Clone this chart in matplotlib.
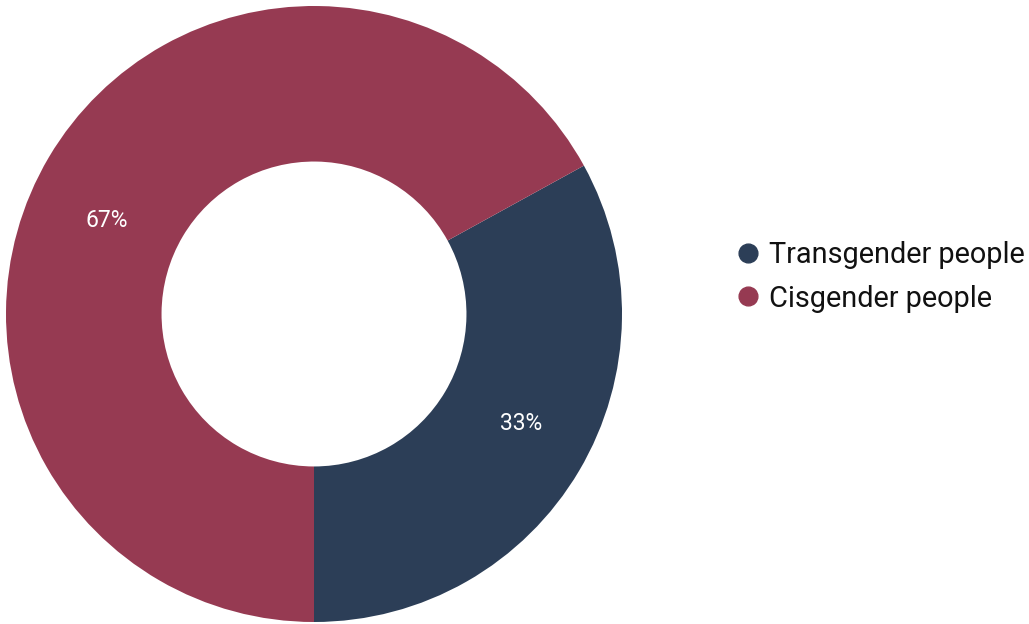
import matplotlib
matplotlib.use("Agg")
import numpy as np
import matplotlib.pyplot as plt
from matplotlib.lines import Line2D

categories = ["Transgender people", "Cisgender people"]
shares = [33, 67]
colors = ["#2C3E57", "#963A52"]

plt.rcParams["font.family"] = ["Roboto", "DejaVu Sans"]

W, H = 1029, 624
fig = plt.figure(figsize=(W / 100, H / 100), dpi=100)
fig.patch.set_facecolor("white")

# Donut: centre at (314, 314) px from top-left, outer radius 308 px
cx, cy, R = 314, 314, 308
ax = fig.add_axes([(cx - R) / W, (H - cy - R) / H, 2 * R / W, 2 * R / H])

wedges, texts, autotexts = ax.pie(
    shares,
    colors=colors,
    startangle=-90,
    counterclock=True,
    radius=1,
    wedgeprops=dict(width=0.505, linewidth=0),
    autopct=lambda p: f"{p:.0f}%",
    pctdistance=0.75,
    textprops=dict(color="white", fontsize=16.5),
)

# percentage labels sit a little counter-clockwise of, and just below, each wedge's middle
for w, t in zip(wedges, autotexts):
    mid = np.deg2rad((w.theta1 + w.theta2) / 2 + 4.4)
    t.set_position((0.75 * np.cos(mid), 0.75 * np.sin(mid) - 0.026))

ax.set_xlim(-1, 1)
ax.set_ylim(-1, 1)
ax.set_aspect("equal")
ax.axis("off")

handles = [
    Line2D([0], [0], marker="o", linestyle="", markersize=13.5,
           markerfacecolor=c, markeredgecolor=c)
    for c in colors
]
fig.legend(
    handles, categories,
    loc="center left",
    bbox_to_anchor=(725 / W, 1 - 277 / H),
    frameon=False,
    fontsize=20.8,
    handlelength=0.6,
    handletextpad=0.42,
    labelspacing=0.52,
    labelcolor="#111111",
    borderpad=0,
)

fig.savefig("out.png", dpi=100, facecolor="white")
